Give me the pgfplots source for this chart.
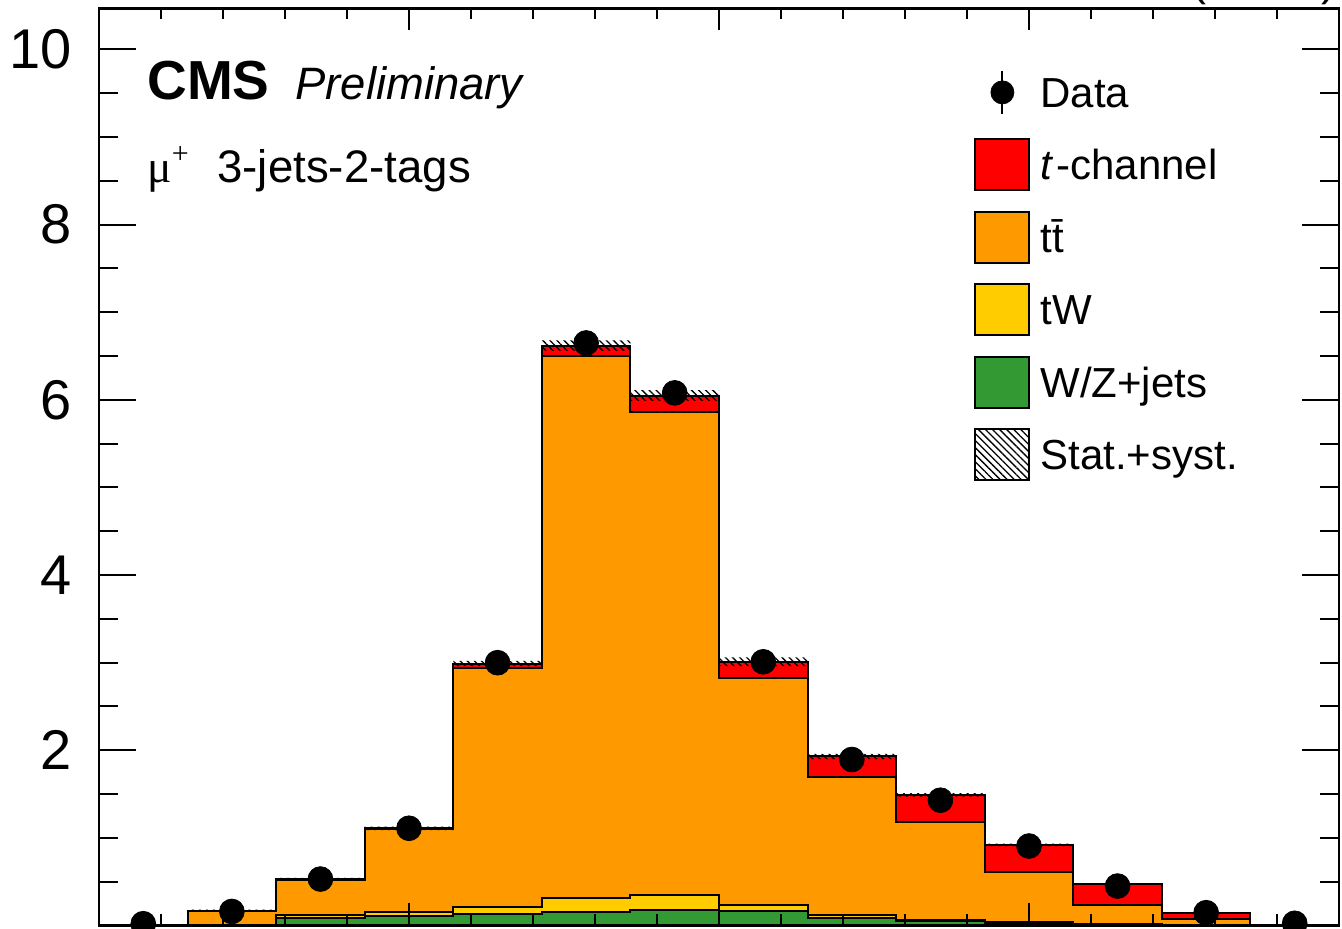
\documentclass[border=0pt]{standalone}
\usepackage{fontspec}
\setmainfont{Liberation Sans}
\newfontfamily\serifgreek{Liberation Serif}
\usepackage{pgfplots}
\pgfplotsset{compat=1.18}
\usepackage{pgfplotstable}
\usetikzlibrary{patterns.meta}

\definecolor{tchred}{RGB}{255,0,0}
\definecolor{ttorange}{RGB}{255,153,0}
\definecolor{twyellow}{RGB}{255,204,0}
\definecolor{wzgreen}{RGB}{51,153,51}
\tikzset{mchatch/.style={pattern={Lines[angle=-45,distance=2.5pt,line width=0.65pt]}}}

% bin left edges; last row closes the final bin
\pgfplotstableread{
x          wz     tw     tt     tch    errlo   errband
-1.000000  0.000  0.000  0.000  0.000   0.000  0.000
-0.857143  0.005  0.005  0.155  0.005  -0.010  0.020
-0.714286  0.090  0.035  0.395  0.010  -0.015  0.030
-0.571429  0.110  0.045  0.945  0.010  -0.020  0.040
-0.428571  0.128  0.082  2.730  0.050  -0.030  0.060
-0.285714  0.155  0.155  6.190  0.120  -0.060  0.120
-0.142857  0.180  0.170  5.510  0.190  -0.060  0.120
 0.000000  0.170  0.065  2.595  0.180  -0.050  0.100
 0.142857  0.080  0.040  1.580  0.230  -0.030  0.060
 0.285714  0.050  0.015  1.115  0.310  -0.020  0.040
 0.428571  0.030  0.010  0.575  0.305  -0.015  0.030
 0.571429  0.010  0.010  0.215  0.240  -0.010  0.020
 0.714286  0.005  0.005  0.065  0.065  -0.005  0.010
 0.857143  0.000  0.000  0.000  0.000   0.000  0.000
 1.000000  0.000  0.000  0.000  0.000   0.000  0.000
}\mctable

\pgfplotstableread{
x          data
-0.928571  0.020
-0.785714  0.160
-0.642857  0.530
-0.500000  1.110
-0.357143  3.000
-0.214286  6.650
-0.071429  6.080
 0.071429  3.010
 0.214286  1.895
 0.357143  1.430
 0.500000  0.907
 0.642857  0.450
 0.785714  0.146
 0.928571  0.025
}\datatable

\begin{document}
\begin{tikzpicture}
\useasboundingbox (-49.5pt,-1.75pt) rectangle (621.5pt,462.75pt);
\clip (-49.5pt,-1.75pt) rectangle (621.5pt,462.75pt);
\begin{axis}[
    scale only axis,
    width=620pt, height=458.5pt,
    xmin=-1, xmax=1, ymin=0, ymax=10.468,
    axis on top,
    tick align=inside, tick pos=both,
    xtick={-1,-0.5,0,0.5,1}, minor x tick num=4, xticklabels={},
    ytick={0,2,4,6,8,10}, yticklabels={,2,4,6,8,10}, minor y tick num=3,
    axis line style={line width=1.2pt},
    every tick/.style={black, line width=1pt},
    xtick style={/pgfplots/major tick length=11pt, /pgfplots/minor tick length=5.5pt},
    ytick style={/pgfplots/major tick length=18.5pt, /pgfplots/minor tick length=9.5pt},
    yticklabel style={font=\fontsize{28}{30}\selectfont, inner sep=0pt, xshift=-13.5pt},
    legend style={draw=none, fill=none, at={(0.70565,0.93784)}, anchor=north west,
        inner sep=0pt, row sep=9.75pt, column sep=5pt,
        font=\fontsize{21}{24}\selectfont,
        nodes={inner sep=0pt, text height=15pt, text depth=0pt},
        cells={anchor=west}},
]
\addplot[stack plots=y, const plot, fill=wzgreen, draw=black, line width=1pt, forget plot]
    table[x=x, y=wz]{\mctable} \closedcycle;
\addplot[stack plots=y, const plot, fill=twyellow, draw=black, line width=1pt, forget plot]
    table[x=x, y=tw]{\mctable} \closedcycle;
\addplot[stack plots=y, const plot, fill=ttorange, draw=black, line width=1pt, forget plot]
    table[x=x, y=tt]{\mctable} \closedcycle;
\addplot[stack plots=y, const plot, fill=tchred, draw=black, line width=1pt, forget plot]
    table[x=x, y=tch]{\mctable} \closedcycle;
% uncertainty band: step down by err, then hatch 2*err
\addplot[stack plots=y, const plot, draw=none, forget plot]
    table[x=x, y=errlo]{\mctable};
\addplot[stack plots=y, const plot, draw=none, mchatch, forget plot]
    table[x=x, y=errband]{\mctable} \closedcycle;
\addplot[only marks, mark=*, mark size=6.2pt, black, forget plot]
    table[x=x, y=data]{\datatable};

\addlegendimage{legend image code/.code={
    \path[draw=none, fill=none] (0pt,-13.25pt) rectangle (27pt,13.25pt);
    \draw[black, line width=1pt] (13.5pt,-10.7pt) -- (13.5pt,10.7pt);
    \fill[black] (13.5pt,0pt) circle (5.75pt);}}
\addlegendentry{Data}
\addlegendimage{legend image code/.code={
    \draw[fill=tchred, line width=1pt] (0pt,-12.75pt) rectangle (27pt,12.75pt);}}
\addlegendentry{\textit{t}\kern1.5pt-channel}
\addlegendimage{legend image code/.code={
    \draw[fill=ttorange, line width=1pt] (0pt,-12.75pt) rectangle (27pt,12.75pt);}}
\addlegendentry{t\={t}}
\addlegendimage{legend image code/.code={
    \draw[fill=twyellow, line width=1pt] (0pt,-12.75pt) rectangle (27pt,12.75pt);}}
\addlegendentry{tW}
\addlegendimage{legend image code/.code={
    \draw[fill=wzgreen, line width=1pt] (0pt,-12.75pt) rectangle (27pt,12.75pt);}}
\addlegendentry{W/Z+jets}
\addlegendimage{legend image code/.code={
    \draw[mchatch, line width=1pt] (0pt,-12.75pt) rectangle (27pt,12.75pt);}}
\addlegendentry{Stat.+syst.}
\end{axis}
\node[anchor=base west, inner sep=0pt] at (24pt,412.75pt)
    {\fontsize{27.5}{30}\selectfont\bfseries CMS};
\node[anchor=base west, inner sep=0pt] at (98pt,412.75pt)
    {\fontsize{22.7}{26}\selectfont\itshape Preliminary};
\node[anchor=base west, inner sep=0pt] at (24pt,371.25pt)
    {\fontsize{22.8}{26}\selectfont\serifgreek μ\raisebox{0.42em}{\fontsize{15}{16}\selectfont +}};
\node[anchor=base west, inner sep=0pt] at (59pt,371.25pt)
    {\fontsize{22.8}{26}\selectfont 3-jets-2-tags};
\node[anchor=base east, inner sep=0pt] at (619pt,465pt)
    {\fontsize{22.5}{26}\selectfont (8 TeV)};
\end{tikzpicture}
\end{document}
